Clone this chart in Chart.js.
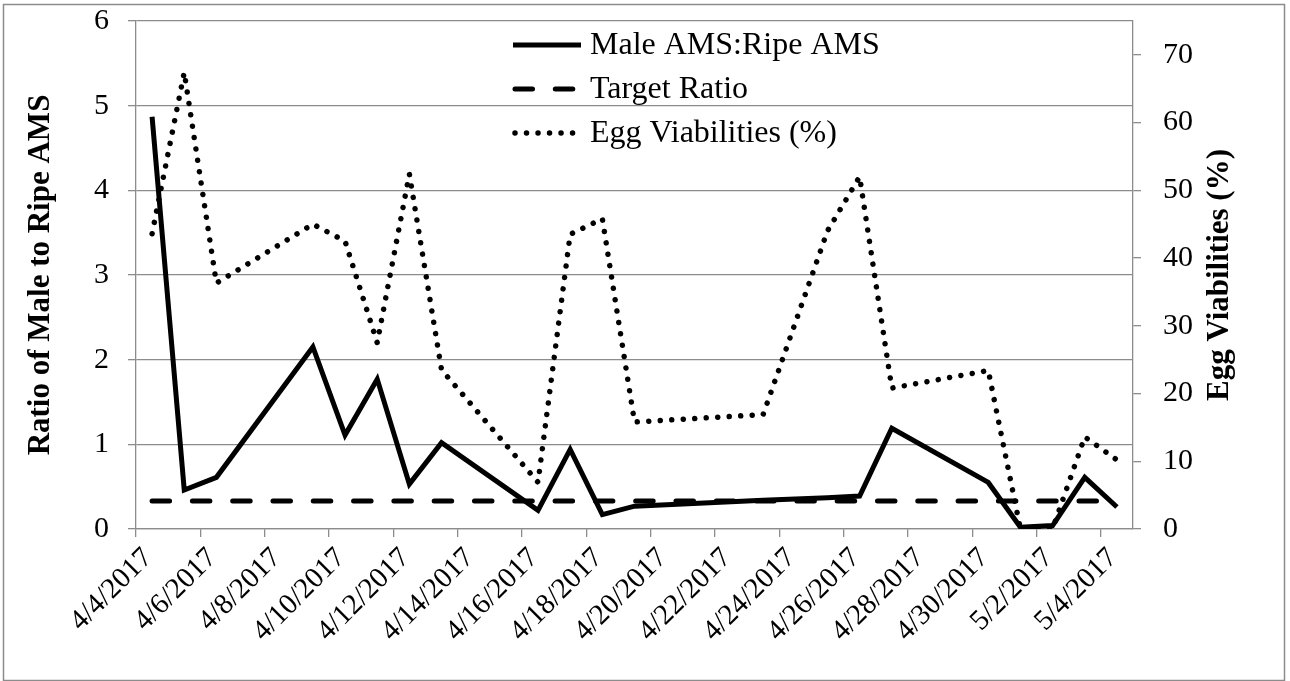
<!DOCTYPE html>
<html>
<head>
<meta charset="utf-8">
<script src="https://cdn.jsdelivr.net/npm/chart.js@4"></script>
<style>
  body { margin: 0; background: #fff; }
  #grafica { display: block; }
</style>
</head>
<body>
<canvas id="grafica" width="1290" height="681"></canvas>
<script>
// sampling dates and values
const dates = ['4/4/2017', '4/5/2017', '4/6/2017', '4/9/2017', '4/10/2017', '4/11/2017', '4/12/2017',
  '4/13/2017', '4/16/2017', '4/17/2017', '4/18/2017', '4/19/2017', '4/23/2017', '4/25/2017',
  '4/26/2017', '4/27/2017', '4/30/2017', '5/1/2017', '5/2/2017', '5/3/2017', '5/4/2017'];
const maleRatio = [4.87, 0.46, 0.61, 2.15, 1.11, 1.77, 0.53, 1.02, 0.22, 0.94, 0.17, 0.27, 0.34, 0.37,
  0.39, 1.19, 0.55, 0.02, 0.04, 0.61, 0.26];
const targetRatio = [0.33, 0.33, 0.33, 0.33, 0.33, 0.33, 0.33, 0.33, 0.33, 0.33, 0.33, 0.33, 0.33, 0.33,
  0.33, 0.33, 0.33, 0.33, 0.33, 0.33, 0.33];
const eggViability = [43.6, 67.4, 36.3, 45.0, 42.5, 27.5, 52.4, 23.5, 6.9, 43.5, 45.8, 15.8, 16.9, 44.0,
  52.0, 20.8, 23.4, 0, 0, 13.6, 10.2];

const xTickLabels = ['4/4/2017', '4/6/2017', '4/8/2017', '4/10/2017', '4/12/2017', '4/14/2017', '4/16/2017',
  '4/18/2017', '4/20/2017', '4/22/2017', '4/24/2017', '4/26/2017', '4/28/2017', '4/30/2017', '5/2/2017', '5/4/2017'];
const leftTicks = [0, 1, 2, 3, 4, 5, 6];
const rightTicks = [0, 10, 20, 30, 40, 50, 60, 70];
const leftTitle = 'Ratio of Male to Ripe AMS';
const rightTitle = 'Egg Viabilities (%)';

// days since 4/4/2017 (points sit in the middle of their day, like Excel)
const start = Date.UTC(2017, 3, 4);
function dayOf(s) {
  const [m, d, y] = s.split('/').map(Number);
  return (Date.UTC(y, m - 1, d) - start) / 86400000;
}
const xs = dates.map(d => dayOf(d) + 0.5);
const xTickDays = xTickLabels.map(dayOf);
const pts = vals => vals.map((v, i) => ({ x: xs[i], y: v }));

const gray = '#8c8c8c';
const serif = 'Liberation Serif, Times New Roman, serif';
const xTickFont = { family: serif, size: 29 };
const yTickFont = { family: serif, size: 30 };
const titleFont = { family: serif, size: 31, weight: 'bold' };

// white page + thin frame round the whole chart
const frame = {
  id: 'frame',
  beforeDraw(chart) {
    const ctx = chart.ctx;
    ctx.save();
    ctx.fillStyle = '#fff';
    ctx.fillRect(0, 0, chart.width, chart.height);
    ctx.strokeStyle = gray;
    ctx.lineWidth = 1.5;
    ctx.strokeRect(3.5, 4.5, 1281, 676);
    ctx.restore();
  }
};

// right axis title reads bottom-to-top like the left one
const rightTitlePlugin = {
  id: 'rightTitle',
  afterDraw(chart) {
    const s = chart.scales.y1;
    const ctx = chart.ctx;
    ctx.save();
    ctx.translate(s.right - 70, (s.top + s.bottom) / 2);
    ctx.rotate(-Math.PI / 2);
    ctx.fillStyle = '#000';
    ctx.font = 'bold 31px ' + serif;
    ctx.textAlign = 'center';
    ctx.textBaseline = 'middle';
    ctx.fillText(rightTitle, 0, 0);
    ctx.restore();
  }
};

// stacked legend inside the plot, no box
const stackLegend = {
  id: 'stackLegend',
  afterDatasetsDraw(chart) {
    const { ctx, chartArea } = chart;
    const x0 = chartArea.left + 377;
    chart.data.datasets.forEach((ds, i) => {
      const y = chartArea.top + 24 + i * 44;
      ctx.save();
      ctx.strokeStyle = ds.borderColor;
      ctx.lineWidth = ds.borderWidth;
      ctx.lineCap = ds.borderCapStyle || 'butt';
      ctx.setLineDash(ds.borderDash || []);
      ctx.beginPath();
      ctx.moveTo(x0 + (ds.borderDash ? 2 : 0), y);
      ctx.lineTo(x0 + 68, y);
      ctx.stroke();
      ctx.setLineDash([]);
      ctx.fillStyle = '#000';
      ctx.font = '32px ' + serif;
      ctx.textBaseline = 'middle';
      ctx.fillText(ds.label, x0 + 77, y + 1);
      ctx.restore();
    });
  }
};

const ctx = document.getElementById('grafica').getContext('2d');
const myChart = new Chart(ctx, {
  type: 'line',
  data: {
    datasets: [
      {
        label: 'Male AMS:Ripe AMS',
        data: pts(maleRatio),
        borderColor: '#000',
        borderWidth: 5,
        borderJoinStyle: 'miter',
        pointRadius: 0,
        yAxisID: 'y'
      },
      {
        label: 'Target Ratio',
        data: pts(targetRatio),
        borderColor: '#000',
        borderWidth: 5,
        borderDash: [17.5, 22.8],
        borderCapStyle: 'round',
        pointRadius: 0,
        yAxisID: 'y'
      },
      {
        label: 'Egg Viabilities (%)',
        data: pts(eggViability),
        borderColor: '#000',
        borderWidth: 5.5,
        borderDash: [0.01, 11.5],
        borderCapStyle: 'round',
        pointRadius: 0,
        yAxisID: 'y1'
      }
    ]
  },
  options: {
    responsive: false,
    animation: false,
    layout: { padding: { top: 21, left: 0, right: 0, bottom: 0 } },
    plugins: {
      legend: { display: false },
      tooltip: { enabled: false }
    },
    scales: {
      x: {
        type: 'linear',
        min: 0,
        max: 31,
        afterBuildTicks: s => { s.ticks = xTickDays.map(v => ({ value: v })); },
        afterFit: s => { s.height = 152; },
        grid: { drawOnChartArea: false, drawTicks: true, tickLength: 8, color: gray, lineWidth: 1.3 },
        border: { color: gray, width: 1.3 },
        ticks: {
          callback: (v, i) => xTickLabels[i],
          autoSkip: false,
          minRotation: 45,
          maxRotation: 45,
          padding: 4,
          labelOffset: 12,
          color: '#000',
          font: xTickFont
        }
      },
      y: {
        position: 'left',
        min: 0,
        max: 6,
        afterBuildTicks: s => { s.ticks = leftTicks.map(v => ({ value: v })); },
        afterFit: s => { s.width = 136; s.paddingTop = 0; s.paddingBottom = 0; },
        grid: { color: gray, lineWidth: 1.3, tickLength: 8 },
        border: { color: gray, width: 1.3 },
        ticks: { color: '#000', font: yTickFont, padding: 19 },
        title: {
          display: true,
          text: leftTitle,
          color: '#000',
          font: titleFont,
          padding: { top: 22, bottom: 0 }
        }
      },
      y1: {
        position: 'right',
        min: 0,
        max: 75,
        afterBuildTicks: s => { s.ticks = rightTicks.map(v => ({ value: v })); },
        afterFit: s => { s.width = 157; s.paddingTop = 0; s.paddingBottom = 0; },
        grid: { drawOnChartArea: false, color: gray, lineWidth: 1.3, tickLength: 8 },
        border: { color: gray, width: 1.3 },
        ticks: { color: '#000', font: yTickFont, padding: 22 }
      }
    }
  },
  plugins: [frame, stackLegend, rightTitlePlugin]
});
</script>
</body>
</html>
